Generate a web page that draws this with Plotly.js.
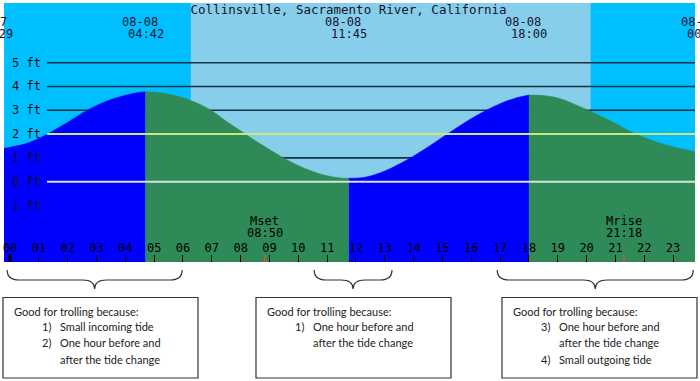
<!DOCTYPE html>
<html><head><meta charset="utf-8">
<script src="https://cdn.plot.ly/plotly-3.0.1.min.js"></script>
<style>html,body{margin:0;padding:0;background:#fff;}#chart{width:700px;height:381px;}</style>
</head><body><div id="chart"></div>
<script>
// ---------- data ----------
const tideHours = [-0.21, 0.0, 0.5, 1.0, 1.5, 2.0, 2.5, 3.0, 3.5, 4.0, 4.35, 4.70,
  5.2, 5.9, 6.5, 7.0, 7.5, 8.0, 8.5, 9.0, 9.5, 10.0, 10.5, 11.0, 11.4, 11.75,
  12.2, 12.5, 13.0, 13.5, 14.0, 14.5, 15.0, 15.5, 16.0, 16.5, 17.0, 17.5, 18.0,
  18.5, 19.0, 19.5, 20.0, 20.5, 21.0, 21.5, 22.0, 22.5, 23.0, 23.5, 23.76];
const tideFeet = [1.40, 1.45, 1.58, 1.82, 2.14, 2.50, 2.88, 3.20, 3.45, 3.63, 3.73, 3.78,
  3.74, 3.57, 3.30, 2.98, 2.54, 2.14, 1.73, 1.35, 0.99, 0.68, 0.43, 0.25, 0.17, 0.14,
  0.17, 0.24, 0.45, 0.74, 1.08, 1.46, 1.87, 2.27, 2.65, 2.99, 3.28, 3.50, 3.64,
  3.62, 3.52, 3.30, 3.03, 2.75, 2.45, 2.12, 1.86, 1.64, 1.46, 1.33, 1.26];
const extremeHours = [-0.52, 4.70, 11.75, 18.00, 24.10];
const extremeDates = ['08-07', '08-08', '08-08', '08-08', '08-09'];
const extremeTimes = ['23:29', '04:42', '11:45', '18:00', '00:06'];
const sunriseHour = 6.27;
const sunsetHour = 20.14;
const moonHours = [8.833, 21.30];
const moonNames = ['Mset', 'Mrise'];
const moonTimes = ['08:50', '21:18'];
const hourTicks = [0,1,2,3,4,5,6,7,8,9,10,11,12,13,14,15,16,17,18,19,20,21,22,23];
const hourLabels = ['00','01','02','03','04','05','06','07','08','09','10','11',
  '12','13','14','15','16','17','18','19','20','21','22','23'];
const feetTicks = [5, 4, 3, 2, 1, 0, -1];
const feetLabels = ['5 ft', '4 ft', '3 ft', '2 ft', '1 ft', '0 ft', '-1 ft'];
const darkLineFeet = [5, 4, 3, 1];
const goodWindows = [[-0.10, 5.97], [10.55, 13.25], [16.90, 23.70]];
const boxHeading = 'Good for trolling because:';
const boxNumbers = [['1)', '2)', ''], ['1)', ''], ['3)', '', '4)']];
const boxLines = [
  ['Small incoming tide', 'One hour before and', 'after the tide change'],
  ['One hour before and', 'after the tide change'],
  ['One hour before and', 'after the tide change', 'Small outgoing tide']
];
const chartTitle = 'Collinsville, Sacramento River, California';

// ---------- styling / layout constants ----------
const W = 700, H = 381;
const xRange = [-0.208, 23.76], yRange = [-3.374, 7.508];
const xDom = [4 / W, 695 / W], yDom = [1 - 262 / H, 1 - 3 / H];
const NIGHT = 'rgb(0,191,255)', DAY = 'rgb(135,206,235)';
const RISE = 'rgb(0,0,255)', FALL = 'rgb(46,139,87)';
const MONO = 'DejaVu Sans Mono';
const pY = py => 1 - py / H;
const pxPerHour = (xDom[1] - xDom[0]) * W / (xRange[1] - xRange[0]);
const hourToPaper = h => xDom[0] + (h - xRange[0]) / (xRange[1] - xRange[0]) * (xDom[1] - xDom[0]);

// ---------- traces: tide split at extremes ----------
const splitAt = extremeHours.filter(h => h > xRange[0] && h < xRange[1]);
const traces = [];
let bounds = [xRange[0] - 1].concat(splitAt).concat([xRange[1] + 1]);
for (let s = 0; s < bounds.length - 1; s++) {
  const xs = [], ys = [];
  tideHours.forEach((h, i) => { if (h >= bounds[s] && h <= bounds[s + 1]) { xs.push(h); ys.push(tideFeet[i]); } });
  if (xs.length < 2) continue;
  const col = ys[ys.length - 1] > ys[0] ? RISE : FALL;
  traces.push({ x: [xs[0], xs[xs.length - 1]], y: [yRange[0], yRange[0]], mode: 'lines',
    line: { width: 0, color: col }, hoverinfo: 'skip', showlegend: false });
  traces.push({ x: xs, y: ys, mode: 'lines', line: { width: 0.5, color: col, shape: 'spline', smoothing: 1 },
    fill: 'tonexty', fillcolor: col, hoverinfo: 'skip', showlegend: false });
}

// ---------- shapes ----------
const shapes = [];
shapes.push({ type: 'rect', xref: 'x', yref: 'y domain', x0: sunriseHour, x1: sunsetHour, y0: 0, y1: 1,
  fillcolor: DAY, line: { width: 0 }, layer: 'below' });
const lineStart = (47 - 4) / 691;
darkLineFeet.forEach(f => shapes.push({ type: 'line', xref: 'x domain', yref: 'y', x0: lineStart, x1: 1, y0: f, y1: f,
  line: { color: 'rgb(25,50,70)', width: 1.6 }, layer: 'below' }));
shapes.push({ type: 'line', xref: 'x domain', yref: 'y', x0: lineStart, x1: 1, y0: 2, y1: 2,
  line: { color: 'rgb(200,232,125)', width: 2 }, layer: 'above' });
shapes.push({ type: 'line', xref: 'x domain', yref: 'y', x0: lineStart, x1: 1, y0: 0, y1: 0,
  line: { color: 'rgb(215,225,215)', width: 2 }, layer: 'above' });
// midnight tick
shapes.push({ type: 'line', xref: 'x', yref: 'y domain', x0: 0, x1: 0, y0: 0, y1: 8 / 259,
  line: { color: '#000', width: 3 }, layer: 'above' });
moonHours.forEach(h => shapes.push({ type: 'line', xref: 'x', yref: 'y domain', x0: h, x1: h, y0: 0, y1: 7 / 259,
  line: { color: 'rgb(185,95,55)', width: 2 }, layer: 'above' }));
// braces
const d = 12 / pxPerHour;
goodWindows.forEach(([a, b]) => {
  const c = (a + b) / 2, t = pY(270), m = pY(280), tip = pY(289);
  shapes.push({ type: 'path', xref: 'x', yref: 'paper',
    path: `M ${a},${t} Q ${a},${m} ${a + d},${m} L ${c - d},${m} Q ${c},${m} ${c},${tip} Q ${c},${m} ${c + d},${m} L ${b - d},${m} Q ${b},${m} ${b},${t}`,
    line: { color: '#333', width: 1.2 } });
});
// boxes
const boxLeft = [3, 256, 502], boxW = 195;
boxLeft.forEach(l => shapes.push({ type: 'rect', xref: 'paper', yref: 'paper', x0: l / W, x1: (l + boxW) / W,
  y0: pY(378), y1: pY(297.5), line: { color: '#333', width: 1.2 }, fillcolor: 'rgba(0,0,0,0)' }));

// ---------- annotations ----------
const ann = [];
const txt = (o) => Object.assign({ showarrow: false, xanchor: 'center', font: { family: MONO, size: 12, color: '#141432' } }, o);
extremeHours.forEach((h, i) => {
  const inRange = h >= xRange[0] && h <= xRange[1];
  const xr = inRange ? 'x' : 'paper', xv = inRange ? h : hourToPaper(h);
  ann.push(txt({ xref: xr, x: xv, yref: 'paper', y: pY(22), text: extremeDates[i], xshift: -6, yanchor: 'middle' }));
  ann.push(txt({ xref: xr, x: xv, yref: 'paper', y: pY(34), text: extremeTimes[i], yanchor: 'middle' }));
});
feetTicks.forEach((f, i) => ann.push(txt({ xref: 'paper', x: 43 / W, xanchor: 'right', yref: 'y', y: f,
  text: feetLabels[i], yanchor: 'middle', font: { family: MONO, size: 12, color: '#111' } })));
moonHours.forEach((h, i) => {
  ann.push(txt({ xref: 'x', x: h, yref: 'paper', y: pY(221), text: moonNames[i], yanchor: 'middle', font: { family: MONO, size: 12, color: '#000' } }));
  ann.push(txt({ xref: 'x', x: h, yref: 'paper', y: pY(233), text: moonTimes[i], yanchor: 'middle', font: { family: MONO, size: 12, color: '#000' } }));
});
const SANS = { family: 'Lato', size: 11, color: '#222' };
const lineY = [311.5, 326, 342.5, 359];
boxLeft.forEach((l, b) => {
  ann.push({ showarrow: false, xref: 'paper', yref: 'paper', x: (l + 9) / W, xanchor: 'left', y: pY(lineY[0]), yanchor: 'middle', text: boxHeading, font: SANS });
  boxLines[b].forEach((s, k) => {
    if (boxNumbers[b][k]) ann.push({ showarrow: false, xref: 'paper', yref: 'paper', x: (l + 37) / W, xanchor: 'left', y: pY(lineY[k + 1]), yanchor: 'middle', text: boxNumbers[b][k], font: SANS });
    ann.push({ showarrow: false, xref: 'paper', yref: 'paper', x: (l + 55) / W, xanchor: 'left', y: pY(lineY[k + 1]), yanchor: 'middle', text: s, font: SANS });
  });
});

const layout = {
  width: W, height: H, margin: { l: 0, r: 0, t: 0, b: 0 },
  paper_bgcolor: '#fff', plot_bgcolor: NIGHT, showlegend: false,
  title: { text: chartTitle, font: { family: MONO, size: 12.5, color: '#141432' }, x: 0.498, xanchor: 'center',
    y: 1 - 10 / H, yanchor: 'middle', yref: 'container' },
  xaxis: { domain: xDom, range: xRange, showgrid: false, zeroline: false, showline: false,
    tickmode: 'array', tickvals: hourTicks, ticktext: hourLabels, ticks: 'inside', ticklen: 7, tickwidth: 1,
    tickcolor: '#000', ticklabelposition: 'inside', ticklabeloverflow: 'allow',
    tickfont: { family: MONO, size: 12, color: '#000' }, fixedrange: true },
  yaxis: { domain: yDom, range: yRange, showgrid: false, zeroline: false, showline: false,
    showticklabels: false, ticks: '', fixedrange: true },
  shapes: shapes, annotations: ann
};
Plotly.newPlot('chart', traces, layout, { staticPlot: true, displayModeBar: false });
</script></body></html>
